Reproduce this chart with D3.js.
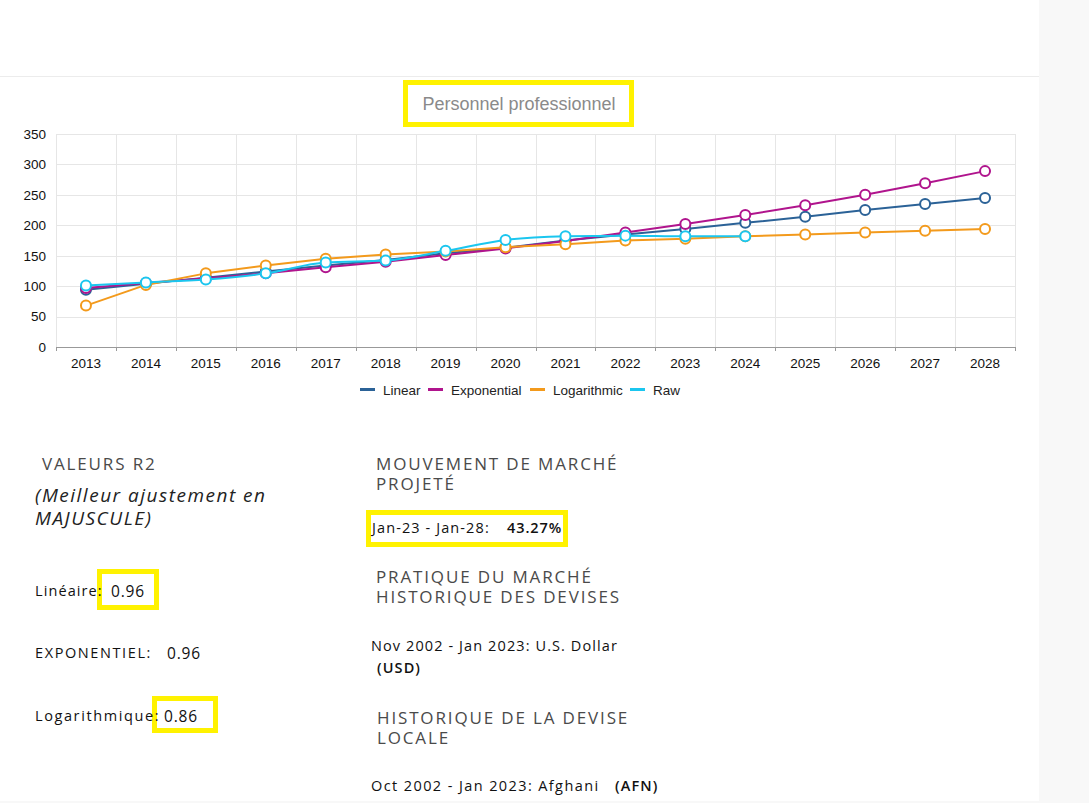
<!DOCTYPE html>
<html>
<head>
<meta charset="utf-8">
<script src="https://cdn.jsdelivr.net/npm/d3@7"></script>
<style>
  html, body { margin: 0; padding: 0; background: #f8f8f8; }
  svg { display: block; }
</style>
</head>
<body>
<script>
// chart data
var years = ["2013","2014","2015","2016","2017","2018","2019","2020","2021","2022","2023","2024","2025","2026","2027","2028"];
var linearValues = [94, 104, 114, 124, 134, 143, 154, 163, 175, 185, 194, 204, 214, 225, 235, 245];
var exponentialValues = [97, 105, 113, 121, 131, 140, 151, 162, 174, 188, 202, 217, 233, 250, 269, 289];
var logarithmicValues = [68, 102, 121, 134, 145, 152, 157, 164, 169, 175, 178, 182, 185, 188, 191, 194];
var rawValues = [101, 106, 111, 121, 139, 142, 158, 176, 182, 183, 182, 182];
var yTicks = [0, 50, 100, 150, 200, 250, 300, 350];
var seriesNames = ["Linear", "Exponential", "Logarithmic", "Raw"];
var seriesColors = ["#2b6297", "#b0148d", "#f39a1c", "#1bc6ef"];

var chartFont = "Liberation Sans, Arial, sans-serif";

function createGraph() {
    var svg = d3.select("body").append("svg")
        .attr("width", 1089)
        .attr("height", 803);

    // page card
    svg.append("rect").attr("x", 0).attr("y", 0).attr("width", 1039).attr("height", 801).attr("fill", "#fff");
    svg.append("line").attr("x1", 0).attr("x2", 1039).attr("y1", 76.5).attr("y2", 76.5)
        .attr("stroke", "#ececec");

    // title
    svg.append("rect").attr("x", 405.5).attr("y", 82.5).attr("width", 226).attr("height", 42)
        .attr("fill", "#fff").attr("stroke", "#fff200").attr("stroke-width", 5);
    svg.append("text").attr("x", 519).attr("y", 110)
        .attr("text-anchor", "middle")
        .attr("font-family", chartFont)
        .attr("font-size", 18).attr("fill", "#8a8a8a")
        .text("Personnel professionnel");

    var margin = {top: 134, left: 56, right: 1015, bottom: 347};
    var x = d3.scaleBand().domain(years).range([margin.left, margin.right]);
    var y = d3.scaleLinear().domain([0, 350]).range([margin.bottom, margin.top]);

    var g = svg.append("g");

    // grid
    g.selectAll("line.hgrid").data(yTicks).enter().append("line")
        .attr("x1", margin.left).attr("x2", margin.right)
        .attr("y1", function (d) { return Math.round(y(d)) + 0.5; })
        .attr("y2", function (d) { return Math.round(y(d)) + 0.5; })
        .attr("stroke", "#e6e6e6");
    g.selectAll("line.vgrid").data(years.concat(["end"])).enter().append("line")
        .attr("x1", function (d, i) { return Math.round(margin.left + i * x.step()) + 0.5; })
        .attr("x2", function (d, i) { return Math.round(margin.left + i * x.step()) + 0.5; })
        .attr("y1", margin.top).attr("y2", margin.bottom)
        .attr("stroke", "#e6e6e6");

    // y axis
    var yAxis = g.append("g")
        .attr("transform", "translate(" + margin.left + ",0)")
        .call(d3.axisLeft(y).tickValues(yTicks).tickSize(0).tickPadding(10));
    yAxis.select(".domain").remove();
    yAxis.selectAll("text")
        .attr("font-family", chartFont)
        .attr("font-size", 13.5).attr("fill", "#111");

    // x axis
    var xAxis = g.append("g")
        .attr("transform", "translate(0," + margin.bottom + ")")
        .call(d3.axisBottom(x).tickSize(0).tickPadding(11));
    xAxis.select(".domain").attr("stroke", "#999");
    xAxis.selectAll("text")
        .attr("font-family", chartFont)
        .attr("font-size", 13.5).attr("fill", "#111");
    g.selectAll("line.xtick").data(years.concat(["end"])).enter().append("line")
        .attr("x1", function (d, i) { return Math.round(margin.left + i * x.step()) + 0.5; })
        .attr("x2", function (d, i) { return Math.round(margin.left + i * x.step()) + 0.5; })
        .attr("y1", margin.bottom).attr("y2", margin.bottom + 4)
        .attr("stroke", "#999");

    // series
    var allSeries = [linearValues, exponentialValues, logarithmicValues, rawValues];
    allSeries.forEach(function (values, si) {
        var pts = values.map(function (v, i) { return {year: years[i], value: v}; });
        var line = d3.line()
            .x(function (d) { return x(d.year) + x.bandwidth() / 2; })
            .y(function (d) { return y(d.value); })
            .curve(si === 3 ? d3.curveMonotoneX : d3.curveLinear);
        g.append("path")
            .datum(pts)
            .attr("fill", "none")
            .attr("stroke", seriesColors[si])
            .attr("stroke-width", 2)
            .attr("stroke-linejoin", "round")
            .attr("d", line);
        g.selectAll("circle.s" + si).data(pts).enter().append("circle")
            .attr("cx", function (d) { return x(d.year) + x.bandwidth() / 2; })
            .attr("cy", function (d) { return y(d.value); })
            .attr("r", 5)
            .attr("fill", "#fff")
            .attr("stroke", seriesColors[si])
            .attr("stroke-width", 2);
    });

    // legend
    var legendX = [360, 428, 530, 630];
    var legend = svg.append("g");
    seriesNames.forEach(function (name, i) {
        legend.append("rect").attr("x", legendX[i]).attr("y", 388).attr("width", 15).attr("height", 3)
            .attr("fill", seriesColors[i]);
        legend.append("text").attr("x", legendX[i] + 23).attr("y", 395)
            .attr("font-family", chartFont)
            .attr("font-size", 13.5).attr("fill", "#222")
            .text(name);
    });

    // text block below the chart
    var info = svg.append("g").attr("font-family", "'Open Sans', sans-serif");

    function hilite(x0, y0, w, h) {
        info.append("rect").attr("x", x0).attr("y", y0).attr("width", w).attr("height", h)
            .attr("fill", "#fff").attr("stroke", "#fff200").attr("stroke-width", 5);
    }
    hilite(368.5, 512.5, 197, 32);
    hilite(99.5, 571.5, 57, 36);
    hilite(154.5, 698.5, 61, 32);

    // lines: one string, or several stacked lines
    function txt(x0, y0, lines, size, color, opts) {
        opts = opts || {};
        if (typeof lines === "string") lines = [lines];
        var t = info.append("text").attr("x", x0).attr("y", y0)
            .attr("font-size", size).attr("fill", color)
            .attr("letter-spacing", opts.spacing || 0);
        lines.forEach(function (s, i) {
            t.append("tspan").attr("x", x0).attr("dy", i === 0 ? 0 : (opts.lh || 20)).text(s);
        });
        if (opts.italic) t.attr("font-style", "italic");
        if (opts.bold) t.attr("font-weight", opts.bold);
        return t;
    }
    var head = "#4a4a4a";
    var H = {spacing: 1.85, lh: 20};
    var B = {spacing: 1.1};
    var V = {spacing: 0.8, bold: 500};
    txt(42, 470, "VALEURS R2", 17, head, H);
    txt(35, 502, ["(Meilleur ajustement en", "MAJUSCULE)"], 19, "#222", {italic: true, spacing: 1.5, lh: 23});
    txt(35, 596, "Linéaire:", 14.5, "#111", B);
    txt(111, 597, "0.96", 15.5, "#111", V);
    txt(35, 658, "EXPONENTIEL:", 14.5, "#111", {spacing: 1.6});
    txt(167, 659, "0.96", 15.5, "#111", V);
    txt(35, 721, "Logarithmique:", 14.5, "#111", {spacing: 1.6});
    txt(164, 722, "0.86", 15.5, "#111", V);

    txt(376, 470, ["MOUVEMENT DE MARCHÉ", "PROJETÉ"], 17, head, H);
    txt(372, 533, "Jan-23 - Jan-28:", 14.5, "#111", B);
    txt(507, 533, "43.27%", 14.5, "#111", {spacing: 0.9, bold: 600});
    txt(376, 583, ["PRATIQUE DU MARCHÉ", "HISTORIQUE DES DEVISES"], 17, head, H);
    txt(371, 651, "Nov 2002 - Jan 2023: U.S. Dollar", 14.5, "#111", B);
    txt(377, 673, "(USD)", 14.5, "#111", {spacing: 1.1, bold: 600});
    txt(377, 724, ["HISTORIQUE DE LA DEVISE", "LOCALE"], 17, head, H);
    txt(371, 791, "Oct 2002 - Jan 2023: Afghani", 14.5, "#111", {spacing: 1.4});
    txt(615, 791, "(AFN)", 14.5, "#111", {spacing: 1.1, bold: 600});
}

createGraph();
</script>
</body>
</html>
